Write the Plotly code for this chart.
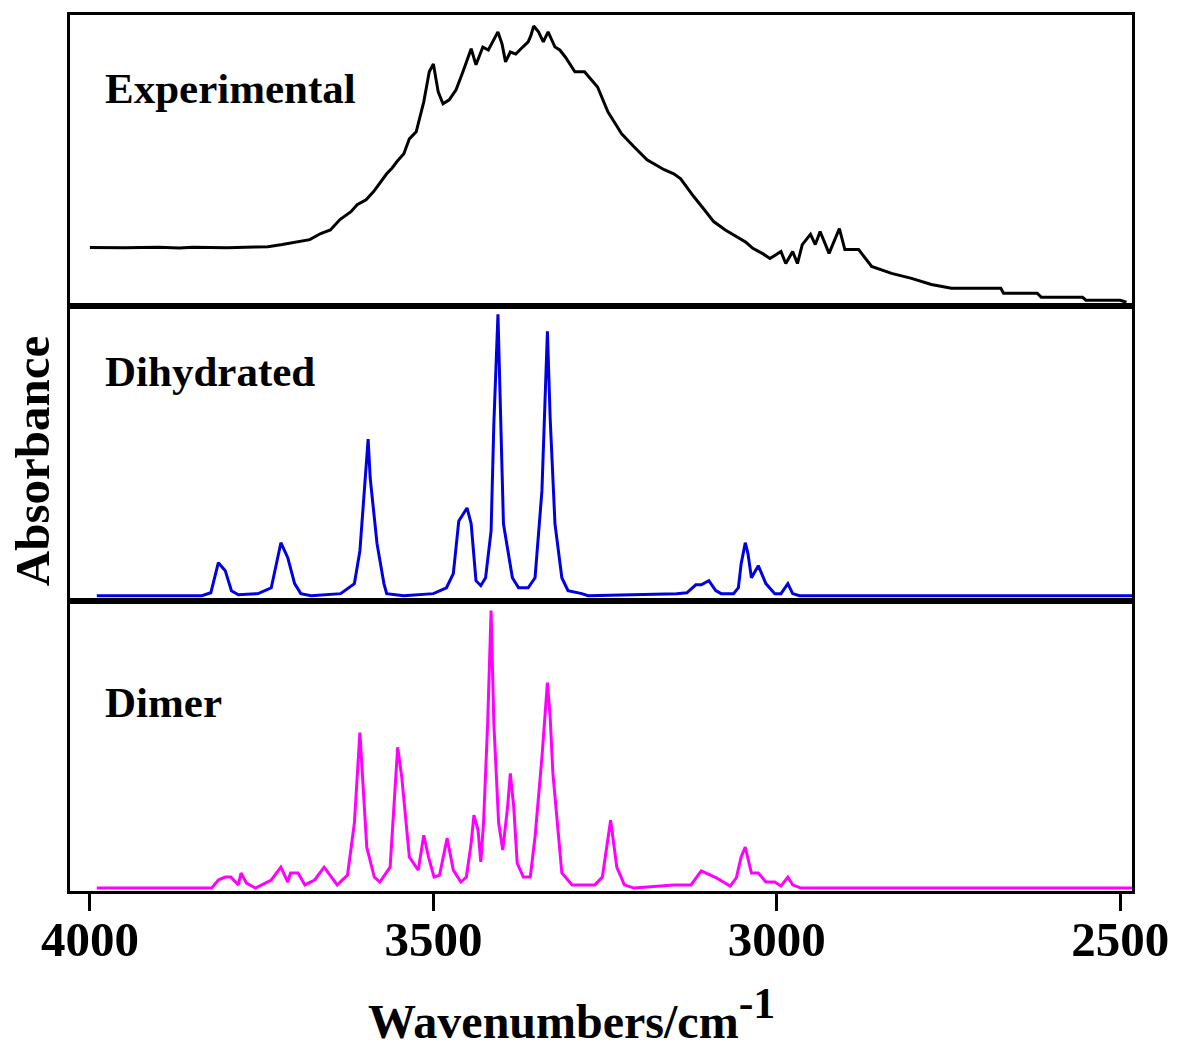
import plotly.graph_objects as go

# ---------------- data ----------------
exp_wn = [4000, 3950, 3900, 3870, 3850, 3800, 3760, 3741, 3720, 3697, 3680, 3664, 3650, 3636,
          3620, 3611, 3598, 3587, 3578, 3568, 3560, 3553, 3543, 3535, 3525, 3514, 3506, 3500,
          3493, 3486, 3477, 3467, 3457, 3445, 3438, 3428, 3420, 3414, 3406, 3400, 3395, 3388,
          3380, 3370, 3362, 3358, 3354, 3347, 3340, 3333, 3323, 3316, 3308, 3294, 3280, 3261,
          3246, 3236, 3226, 3208, 3189, 3164, 3150, 3140, 3121, 3105, 3092, 3075, 3059, 3045,
          3035, 3020, 3010, 2994, 2987, 2977, 2970, 2963, 2951, 2944, 2937, 2924, 2909, 2901,
          2890, 2881, 2862, 2833, 2804, 2775, 2746, 2700, 2674, 2670, 2621, 2615, 2555, 2550,
          2500, 2491]
exp_abs = [0.202, 0.201, 0.203, 0.200, 0.203, 0.201, 0.204, 0.205, 0.212, 0.223, 0.229, 0.250,
           0.262, 0.298, 0.325, 0.349, 0.366, 0.394, 0.425, 0.455, 0.475, 0.497, 0.524, 0.575,
           0.599, 0.702, 0.805, 0.832, 0.736, 0.695, 0.709, 0.743, 0.805, 0.884, 0.829, 0.890,
           0.880, 0.908, 0.942, 0.900, 0.839, 0.873, 0.866, 0.890, 0.908, 0.930, 0.962, 0.942,
           0.908, 0.942, 0.890, 0.880, 0.856, 0.805, 0.805, 0.753, 0.668, 0.630, 0.592, 0.548,
           0.503, 0.469, 0.455, 0.438, 0.377, 0.330, 0.291, 0.262, 0.240, 0.220, 0.199, 0.180,
           0.164, 0.188, 0.147, 0.188, 0.147, 0.212, 0.247, 0.212, 0.257, 0.182, 0.267, 0.195,
           0.195, 0.195, 0.137, 0.113, 0.096, 0.075, 0.062, 0.062, 0.062, 0.045, 0.045, 0.031,
           0.031, 0.021, 0.021, 0.014]

dih_wn = [3990, 3837, 3824, 3813, 3803, 3794, 3784, 3755, 3736, 3722, 3712, 3702, 3693, 3678,
          3635, 3615, 3607, 3599, 3595, 3592, 3582, 3572, 3568, 3543, 3500, 3481, 3471, 3463,
          3451, 3445, 3438, 3431, 3424, 3416, 3412, 3406, 3402, 3398, 3385, 3376, 3362, 3352,
          3342, 3337, 3334, 3330, 3323, 3313, 3304, 3284, 3275, 3146, 3131, 3118, 3110, 3099,
          3089, 3081, 3063, 3056, 3052, 3046, 3042, 3037, 3027, 3016, 3003, 2994, 2984, 2977,
          2967, 2483]
dih_abs = [0.017, 0.017, 0.027, 0.129, 0.102, 0.034, 0.020, 0.024, 0.044, 0.197, 0.146, 0.058,
           0.024, 0.017, 0.024, 0.058, 0.169, 0.407, 0.549, 0.417, 0.193, 0.058, 0.024, 0.017,
           0.024, 0.044, 0.092, 0.271, 0.315, 0.261, 0.068, 0.051, 0.078, 0.237, 0.600, 0.973,
           0.600, 0.261, 0.078, 0.044, 0.044, 0.078, 0.373, 0.712, 0.915, 0.620, 0.261, 0.078,
           0.034, 0.024, 0.017, 0.024, 0.027, 0.054, 0.054, 0.068, 0.034, 0.024, 0.024, 0.044,
           0.125, 0.197, 0.159, 0.078, 0.119, 0.058, 0.024, 0.024, 0.058, 0.024, 0.017, 0.017]

dim_wn = [3990, 3823, 3813, 3803, 3795, 3784, 3780, 3772, 3759, 3736, 3722, 3712, 3708, 3697,
          3687, 3673, 3659, 3640, 3625, 3615, 3607, 3597, 3586, 3578, 3563, 3558, 3552, 3546,
          3535, 3522, 3514, 3507, 3499, 3491, 3480, 3471, 3460, 3452, 3445, 3441, 3435, 3431,
          3427, 3421, 3416, 3412, 3405, 3399, 3392, 3388, 3383, 3378, 3369, 3359, 3352, 3342,
          3334, 3330, 3326, 3313, 3298, 3265, 3254, 3242, 3233, 3222, 3208, 3150, 3125, 3110,
          3088, 3068, 3059, 3052, 3046, 3037, 3027, 3016, 3003, 2994, 2984, 2977, 2965, 2483]
dim_abs = [0.010, 0.010, 0.038, 0.048, 0.048, 0.021, 0.062, 0.027, 0.010, 0.038, 0.082, 0.031,
           0.062, 0.062, 0.021, 0.038, 0.082, 0.021, 0.055, 0.234, 0.546, 0.151, 0.048, 0.031,
           0.082, 0.289, 0.495, 0.392, 0.117, 0.072, 0.192, 0.117, 0.048, 0.055, 0.182, 0.072,
           0.031, 0.048, 0.165, 0.261, 0.210, 0.100, 0.234, 0.577, 0.966, 0.577, 0.234, 0.141,
           0.289, 0.405, 0.289, 0.096, 0.048, 0.048, 0.186, 0.460, 0.718, 0.598, 0.405, 0.062,
           0.021, 0.021, 0.048, 0.244, 0.082, 0.021, 0.010, 0.021, 0.021, 0.069, 0.045, 0.017,
           0.045, 0.117, 0.151, 0.062, 0.062, 0.031, 0.031, 0.017, 0.048, 0.021, 0.010, 0.010]

panel_names = ["Experimental", "Dihydrated", "Dimer"]
tick_vals = [4000, 3500, 3000, 2500]
tick_text = ["4000", "3500", "3000", "2500"]
x_title = "Wavenumbers/cm<sup><span style='font-size:44px'>-1</span></sup>"
y_title = "Absorbance"

# ---------------- figure ----------------
FONT = "Liberation Serif, Times New Roman, serif"
LW = 2.5

fig = go.Figure()
fig.add_trace(go.Scatter(x=exp_wn, y=exp_abs, mode="lines", line=dict(color="black", width=3),
                         xaxis="x", yaxis="y", showlegend=False))
fig.add_trace(go.Scatter(x=dih_wn, y=dih_abs, mode="lines", line=dict(color="#0000e0", width=3),
                         xaxis="x2", yaxis="y2", showlegend=False))
fig.add_trace(go.Scatter(x=dim_wn, y=dim_abs, mode="lines", line=dict(color="#ff00ff", width=3),
                         xaxis="x3", yaxis="y3", showlegend=False))

xr = [4029, 2483]
d3 = [0.0, 0.3314]
d2 = [0.3314, 0.6674]
d1 = [0.6674, 1.0]

common_y = dict(range=[0, 1], showticklabels=False, ticks="", showgrid=False, zeroline=False,
                showline=True, mirror=True, linecolor="black", linewidth=LW, fixedrange=True)
common_x = dict(range=xr, showgrid=False, zeroline=False, showline=True, mirror=True,
                linecolor="black", linewidth=LW)

fig.update_layout(
    width=1181, height=1048,
    margin=dict(l=70, r=38, t=13, b=157),
    paper_bgcolor="white", plot_bgcolor="white",
    font=dict(family=FONT, color="black"),
    xaxis=dict(**common_x, anchor="y", showticklabels=False, ticks="", matches="x3"),
    xaxis2=dict(**common_x, anchor="y2", showticklabels=False, ticks="", matches="x3"),
    xaxis3=dict(**common_x, anchor="y3", tickmode="array", tickvals=tick_vals, ticktext=tick_text,
                ticks="outside", ticklen=17, tickwidth=2.5, tickcolor="black",
                ticklabelstandoff=-14, ticklabeloverflow="allow",
                tickfont=dict(family=FONT, size=49, color="black", weight="bold")),
    yaxis=dict(**common_y, domain=d1, anchor="x"),
    yaxis2=dict(**common_y, domain=d2, anchor="x2"),
    yaxis3=dict(**common_y, domain=d3, anchor="x3"),
)

label_y = [0.9157, 0.5934, 0.2153]
for name, yy in zip(panel_names, label_y):
    fig.add_annotation(text=name, xref="paper", yref="paper", x=0.0308, y=yy,
                       xanchor="left", yanchor="middle", showarrow=False,
                       font=dict(family=FONT, size=43, color="black", weight="bold"))

fig.add_annotation(text=x_title, xref="paper", yref="paper", x=0.4725, y=-0.14,
                   xanchor="center", yanchor="middle", showarrow=False,
                   font=dict(family=FONT, size=48, color="black", weight="bold"))
fig.add_annotation(text=y_title, xref="paper", yref="paper", x=-0.0345, y=0.491,
                   xanchor="center", yanchor="middle", showarrow=False, textangle=-90,
                   font=dict(family=FONT, size=49, color="black", weight="bold"))

fig.write_html("out.html")
